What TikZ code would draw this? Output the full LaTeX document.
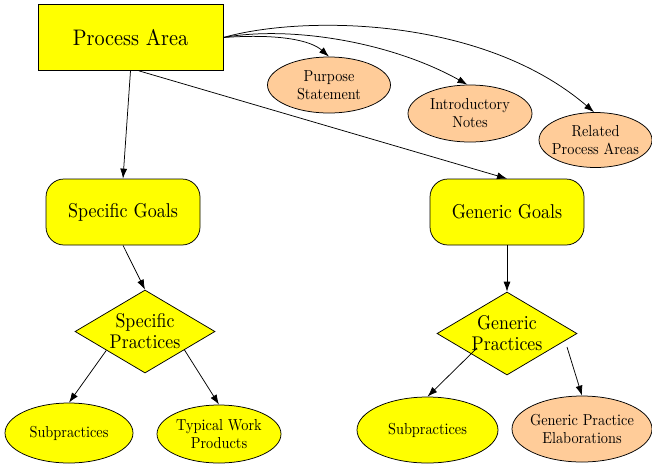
\documentclass[tikz,border=0pt]{standalone}
\usepackage{fontspec}
\setmainfont{lmroman10-regular.otf}[FakeStretch=0.9]
\usetikzlibrary{shapes.geometric,arrows.meta,calc}
\definecolor{boxyellow}{RGB}{255,255,0}
\definecolor{peach}{RGB}{255,204,153}
\begin{document}
\begin{tikzpicture}[x=1pt,y=-1pt,
  every node/.style={draw=black, line width=0.75pt, inner sep=0pt, align=center, text=black},
  areabox/.style={rectangle, fill=boxyellow, minimum width=185pt, minimum height=66pt,
    font=\fontsize{22.5}{26}\selectfont},
  goalbox/.style={rectangle, rounded corners=18pt, fill=boxyellow, minimum width=154pt,
    minimum height=66pt, font=\fontsize{20}{22}\selectfont},
  practice/.style={diamond, aspect=1.7, fill=boxyellow, minimum width=140pt,
    minimum height=83pt, font=\fontsize{19.8}{21}\selectfont},
  infoleaf/.style={ellipse, fill=peach, inner xsep=-14pt, font=\fontsize{15.9}{18}\selectfont},
  workleaf/.style={ellipse, fill=boxyellow, inner xsep=-14pt, font=\fontsize{15.9}{18}\selectfont},
  arr/.style={-{Latex[length=10pt,width=7pt]}, line width=0.75pt}
]
\useasboundingbox (0,0) rectangle (652,466);

% top level
\node[areabox] (pa) at (130.5,37.5) {Process Area};

% descriptive components
\node[infoleaf, minimum width=123pt, minimum height=56pt] (ps) at (329,85) {Purpose\\Statement};
\node[infoleaf, minimum width=124pt, minimum height=57pt] (in) at (470,113.5) {Introductory\\Notes};
\node[infoleaf, minimum width=113pt, minimum height=55pt] (ra) at (595.5,140) {Related\\Process Areas};

% goals
\node[goalbox] (sg) at (123,212) {Specific Goals};
\node[goalbox] (gg) at (507,212) {Generic Goals};

% practices
\node[practice] (sp) at (145,331.5) {Specific\\Practices};
\node[practice] (gp) at (507,333.5) {Generic\\Practices};

% leaves
\node[workleaf, minimum width=128pt, minimum height=60pt] (sl) at (69,433) {Subpractices};
\node[workleaf, minimum width=124pt, minimum height=58pt] (tw) at (219,434) {Typical Work\\Products};
\node[workleaf, minimum width=141pt, minimum height=66pt] (sr) at (427.5,430) {Subpractices};
\node[infoleaf, minimum width=140pt, minimum height=66pt] (ge) at (582,429) {Generic Practice\\Elaborations};

% curved links to the descriptive components
\draw[arr] (pa.east) .. controls +(57,-4) and +(-18,-16) .. (ps.north);
\draw[arr] (pa.east) .. controls +(67,-12) and +(-77,-43) .. (in.95);
\draw[arr] (pa.east) .. controls +(77,-22) and +(-113,-97) .. (ra.93);

% straight links
\draw[arr] (pa.south) -- (sg.north);
\draw[arr] ($(pa.south)+(8.5,0)$) -- (gg.north);
\draw[arr] (sg.south) -- (sp.north);
\draw[arr] (gg.south) -- (gp.north);
\draw[arr] (sp.206) -- (sl.north);
\draw[arr] (sp.335) -- (tw.north);
\draw[arr] ($(gp.center)+(-30,14.5)$) -- (sr.north);
\draw[arr] ($(gp.center)+(60,13.5)$) -- (ge.north);
\end{tikzpicture}
\end{document}
